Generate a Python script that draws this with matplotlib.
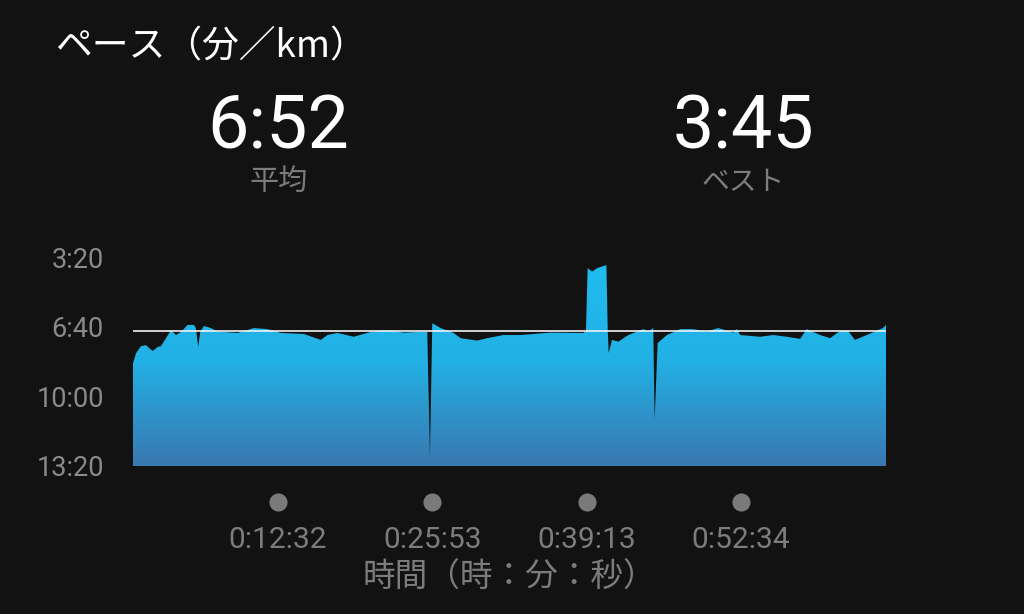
import numpy as np
import matplotlib
matplotlib.use("Agg")
import matplotlib.pyplot as plt
from matplotlib.colors import LinearSegmentedColormap

# elapsed time (s) and pace (s/km)
times = [0, 16, 41, 67, 102, 128, 145, 171, 197, 223, 249, 283, 316, 326, 338,
         349, 368, 404, 439, 542, 627, 698, 766, 886, 974, 1008, 1060, 1145,
         1233, 1319, 1404, 1526, 1540, 1552, 1595, 1662, 1699, 1785, 1837,
         1921, 2010, 2077, 2165, 2336, 2349, 2358, 2381, 2407, 2455, 2462,
         2467, 2484, 2518, 2544, 2569, 2647, 2672, 2698, 2705, 2721, 2769,
         2838, 2905, 2976, 3035, 3113, 3132, 3149, 3252, 3320, 3391, 3460,
         3494, 3563, 3615, 3667, 3708, 3744, 3805, 3889, 3905]
pace = [505, 476, 456, 453, 470, 458, 456, 433, 410, 424, 415, 395, 395, 404,
        458, 415, 398, 404, 414, 418, 404, 407, 418, 421, 438, 424, 418, 429,
        415, 410, 417, 414, 773, 390, 404, 418, 433, 440, 433, 424, 424, 421,
        417, 418, 412, 232, 242, 232, 223, 410, 476, 438, 443, 433, 424, 407,
        414, 404, 668, 447, 424, 407, 407, 414, 404, 417, 407, 424, 429, 424,
        429, 435, 407, 424, 433, 412, 412, 438, 424, 404, 395]

y_ticks = [200, 400, 600, 800]
y_tick_labels = ["3:20", "6:40", "10:00", "13:20"]
x_ticks = [752, 1553, 2353, 3154]
x_tick_labels = ["0:12:32", "0:25:53", "0:39:13", "0:52:34"]
avg_pace = 412
total_time = 3905

BG = "#121212"
GREY = "#8a8a8a"
NUM_FONT = ["Roboto", "Noto Sans CJK JP", "DejaVu Sans"]
JP_FONT = ["Noto Sans CJK JP", "DejaVu Sans"]

fig = plt.figure(figsize=(10.24, 6.14), dpi=100, facecolor=BG)
ax = fig.add_axes([133 / 1024, 1 - 466 / 614, 753 / 1024, 209 / 614])
ax.set_facecolor(BG)

# gradient fill clipped to the pace area
poly = ax.fill_between(times, pace, 800, color="none", lw=0)
cmap = LinearSegmentedColormap.from_list("pace", ["#1fbdf0", "#22b0e4", "#3a78b0"])
grad = np.linspace(0, 1, 256).reshape(-1, 1)
img = ax.imshow(grad, cmap=cmap, aspect="auto", extent=[0, total_time, 800, 200],
                origin="upper", zorder=1)
img.set_clip_path(poly.get_paths()[0], transform=ax.transData)

ax.plot([0, total_time], [avg_pace, avg_pace], color="#f2f2f2", lw=1.2, zorder=3)

ax.set_xlim(0, total_time)
ax.set_ylim(800, 200)
for s in ax.spines.values():
    s.set_visible(False)

ax.set_yticks(y_ticks)
ax.set_yticklabels(y_tick_labels, family=NUM_FONT, fontsize=19.5, color=GREY)
ax.tick_params(axis="y", length=0, pad=21)
ax.set_xticks([])

# time markers under the chart
trans = ax.get_xaxis_transform()
ax.scatter(x_ticks, [-0.172] * len(x_ticks), s=170, color="#7a7a7a",
           transform=trans, clip_on=False, lw=0)
for xt, lab in zip(x_ticks, x_tick_labels):
    ax.text(xt, -0.355, lab, transform=trans, ha="center", va="center",
            family=NUM_FONT, fontsize=21.5, color="#7c7c7c")
fig.text(509 / 1024, 1 - 578 / 614, "時間（時：分：秒）", ha="center", va="center",
         family=JP_FONT, fontsize=23.5, color="#7c7c7c")

# header
fig.text(55 / 1024, 1 - 47 / 614, "ペース（分／km）", ha="left", va="center",
         family=JP_FONT, fontsize=26.5, color="white")
fig.text(278 / 1024, 1 - 128 / 614, "6:52", ha="center", va="center",
         family=NUM_FONT, fontsize=53, color="white")
fig.text(743 / 1024, 1 - 128 / 614, "3:45", ha="center", va="center",
         family=NUM_FONT, fontsize=53, color="white")
fig.text(279 / 1024, 1 - 182 / 614, "平均", ha="center", va="center",
         family=JP_FONT, fontsize=21, color="#7c7c7c")
fig.text(743 / 1024, 1 - 182 / 614, "ベスト", ha="center", va="center",
         family=JP_FONT, fontsize=20, color="#7c7c7c")

fig.savefig("out.png", dpi=100, facecolor=BG)
